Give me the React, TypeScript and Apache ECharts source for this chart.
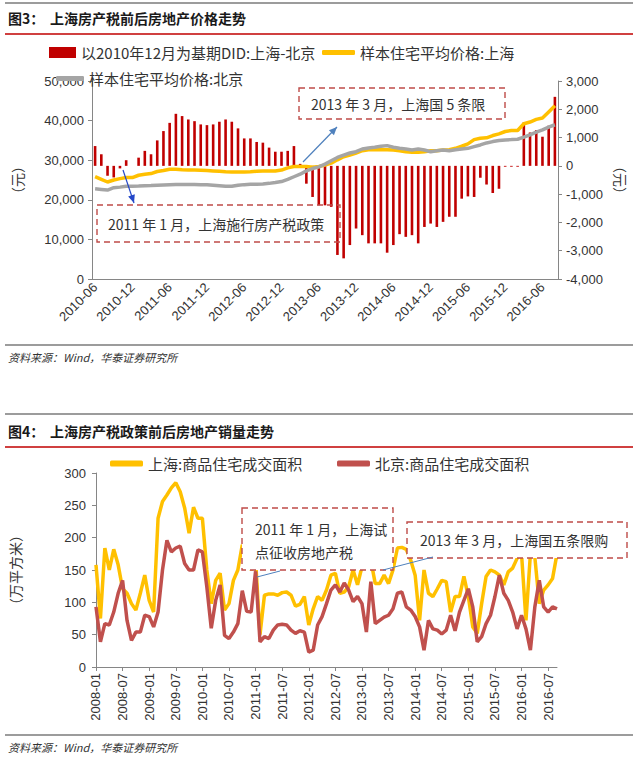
import React, { useEffect, useRef } from "react";
import * as echarts from "echarts";

// ---------- categories ----------
function monthRange(y0: number, m0: number, count: number): string[] {
  const out: string[] = [];
  let y = y0;
  let m = m0;
  for (let i = 0; i < count; i++) {
    out.push(`${y}-${String(m).padStart(2, "0")}`);
    m++;
    if (m > 12) { m = 1; y++; }
  }
  return out;
}
const priceMonths = monthRange(2010, 6, 75); // 2010-06 .. 2016-08
const salesMonths = monthRange(2008, 1, 105); // 2008-01 .. 2016-09

// ---------- series names ----------
const DID_NAME = "以2010年12月为基期DID:上海-北京";
const SH_PRICE = "样本住宅平均价格:上海";
const BJ_PRICE = "样本住宅平均价格:北京";
const SH_SALES = "上海:商品住宅成交面积";
const BJ_SALES = "北京:商品住宅成交面积";

// ---------- chart 1 values ----------
const didValues = [
  700, 410, -350, -410, -90, 200, 0,
  290, 530, 410, 900, 1230, 1520, 1840, 1760, 1640, 1580, 1465, 1440,
  1465, 1560, 1640, 1560, 1325, 970, 970, 845, 820, 645, 500, 500,
  530, 700, 70, -630, -1100, -1395, -1395, -1450, -3150, -3270, -2800, -2215,
  -2450, -2740, -2740, -2740, -3070, -2800, -2415, -2510, -2450, -2740, -2160, -2040,
  -2160, -1980, -1800, -1800, -1160, -1080, -1100, -420, -660, -960, -810, -30,
  -30, -30, 1535, 1180, 1265, 1030, 1420, 2440,
];
const shPrice = [
  25870, 25180, 24490, 25000, 25350, 25610, 25610,
  26200, 26460, 26630, 27140, 27400, 27730, 27730, 27600, 27550, 27500, 27450, 27400,
  27300, 27200, 27100, 27050, 27000, 27050, 27100, 27200, 27250, 27300, 27300, 27500,
  28060, 28400, 28400, 28400, 28250, 28400, 28750, 29260, 30100, 30870, 31300, 31810,
  32400, 32650, 32650, 32650, 32650, 32570, 32400, 32150, 32000, 32000, 32150, 32400,
  32400, 32570, 32650, 33000, 33520, 34110, 35200, 35560, 35650, 36230, 36660, 37250,
  37500, 37500, 39210, 39640, 40300, 40660, 42190, 43720,
];
const bjPrice = [
  22800, 22630, 22460, 23050, 23200, 23400, 23450,
  23500, 23560, 23600, 23700, 23750, 23800, 23850, 23850, 23850, 23850, 23800, 23800,
  23700, 23550, 23400, 23400, 23650, 23830, 23900, 23950, 24000, 24150, 24350, 24600,
  25140, 25820, 26460, 27310, 27900, 28330, 29000, 29850, 30700, 31300, 31810, 32150,
  32830, 33080, 33260, 33520, 33680, 33260, 33000, 32830, 32570, 32830, 32570, 32150,
  32400, 32570, 32400, 32650, 32830, 33000, 33430, 33850, 34360, 34700, 34960, 35130,
  35200, 35300, 35810, 36400, 37090, 37680, 38360, 38950,
];

// ---------- chart 2 values ----------
const shSales = [
  158, 75, 184, 150, 182, 158, 121, 114, 98, 88, 114, 142,
  103, 85, 230, 256, 266, 277, 285, 271, 246, 207, 247, 230,
  230, 150, 98, 134, 145, 88, 98, 134, 150, 189, 178, 150,
  165, 50, 111, 113, 113, 111, 115, 116, 111, 94, 97, 109,
  65, 90, 109, 103, 119, 142, 145, 114, 116, 124, 150, 127,
  155, 175, 165, 129, 129, 142, 129, 150, 184, 185, 182, 165,
  142, 72, 150, 114, 109, 121, 134, 132, 85, 109, 109, 140,
  109, 62, 52, 98, 140, 150, 147, 142, 127, 147, 153, 168,
  175, 72, 175, 170, 98, 119, 127, 137, 175,
];
const bjSales = [
  93, 39, 67, 65, 85, 114, 134, 72, 41, 54, 54, 80,
  78, 62, 85, 150, 196, 178, 184, 187, 160, 150, 150, 181,
  178, 124, 60, 103, 127, 49, 44, 54, 67, 118, 86, 85,
  148, 39, 47, 44, 57, 65, 66, 65, 57, 52, 56, 54,
  23, 26, 65, 78, 98, 119, 127, 116, 130, 119, 101, 109,
  98, 54, 132, 67, 72, 77, 80, 90, 114, 116, 93, 88,
  78, 62, 26, 72, 59, 57, 51, 57, 80, 56, 85, 103,
  121, 93, 39, 47, 67, 80, 109, 142, 114, 103, 85, 59,
  80, 59, 26, 93, 134, 93, 85, 93, 90,
];

// ---------- styling ----------
const FONT = '"Noto Sans CJK SC", "Noto Sans", sans-serif';
const AXIS_COLOR = "#868686";
const LABEL_COLOR = "#333333";
const BOX_COLOR = "#BE4B48";

const hr = (y: number, color: string, w: number) => ({
  type: "line", z: 100,
  shape: { x1: 5, y1: y, x2: 633, y2: y },
  style: { stroke: color, lineWidth: w },
});
const txt = (x: number, y: number, text: string, font: string, fill = "#333333") => ({
  type: "text", z: 101, x, y,
  style: { text, font, fill, verticalAlign: "middle", align: "left" },
});
const box = (x: number, y: number, w: number, h: number, fill: string) => ({
  type: "rect", z: 100,
  shape: { x, y, width: w, height: h },
  style: { fill, stroke: BOX_COLOR, lineWidth: 1.4, lineDash: [6, 4] },
});
const seg = (x1: number, y1: number, x2: number, y2: number, color: string, w = 1) => ({
  type: "line", z: 101,
  shape: { x1, y1, x2, y2 },
  style: { stroke: color, lineWidth: w },
});
function arrowHead(x1: number, y1: number, x2: number, y2: number, color: string) {
  const dx = x2 - x1, dy = y2 - y1;
  const L = Math.sqrt(dx * dx + dy * dy);
  const ux = dx / L, uy = dy / L;
  const bx = x2 - ux * 8, by = y2 - uy * 8;
  const px = -uy * 3.5, py = ux * 3.5;
  return {
    type: "polygon", z: 101,
    shape: { points: [[x2, y2], [bx + px, by + py], [bx - px, by - py]] },
    style: { fill: color },
  };
}

const axisLineCommon = { onZero: false, lineStyle: { color: AXIS_COLOR, width: 1 } };
const axisTickCommon = { interval: 5, length: 4, lineStyle: { color: AXIS_COLOR } };
const yAxisCommon = {
  type: "value",
  axisLine: { show: true, lineStyle: { color: AXIS_COLOR, width: 1 } },
  axisTick: { show: true, length: 4, lineStyle: { color: AXIS_COLOR } },
  splitLine: { show: false },
  nameLocation: "middle",
  nameTextStyle: { fontSize: 14, color: LABEL_COLOR },
};

const legendBase = {
  padding: 0,
  selectedMode: false,
  itemGap: 10,
  textStyle: { fontSize: 15, color: LABEL_COLOR, fontFamily: FONT },
};

const option: any = {
  animation: false,
  backgroundColor: "#ffffff",
  textStyle: { fontFamily: FONT },
  grid: [
    { left: 92, top: 81, width: 466, height: 198 },
    { left: 92, top: 473, width: 465, height: 194 },
  ],
  xAxis: [
    {
      type: "category", gridIndex: 0, data: priceMonths, boundaryGap: true,
      axisLine: axisLineCommon, axisTick: axisTickCommon, splitLine: { show: false },
      axisLabel: { interval: 5, rotate: 45, fontSize: 13, color: LABEL_COLOR, margin: 6, fontFamily: "Liberation Sans" },
    },
    {
      type: "category", gridIndex: 1, data: salesMonths, boundaryGap: false,
      axisLine: axisLineCommon, axisTick: axisTickCommon, splitLine: { show: false },
      axisLabel: { interval: 5, rotate: 90, fontSize: 13, color: LABEL_COLOR, margin: 6, fontFamily: "Liberation Sans" },
    },
  ],
  yAxis: [
    {
      ...yAxisCommon, gridIndex: 0, position: "left", min: 0, max: 50000, interval: 10000,
      name: "（元）", nameGap: 68, nameRotate: 90,
      axisLabel: { fontSize: 13, color: LABEL_COLOR, margin: 8, fontFamily: "Liberation Sans" },
    },
    {
      ...yAxisCommon, gridIndex: 0, position: "right", min: -4000, max: 3000, interval: 1000,
      name: "（元）", nameGap: 54, nameRotate: -90,
      axisLabel: {
        fontSize: 13, color: LABEL_COLOR, margin: 8, fontFamily: "Liberation Sans",
        formatter: (v: number) => v.toLocaleString("en-US"),
      },
    },
    {
      ...yAxisCommon, gridIndex: 1, position: "left", min: 0, max: 300, interval: 50,
      name: "（万平方米）", nameGap: 74, nameRotate: 90,
      axisLabel: { fontSize: 13, color: LABEL_COLOR, margin: 10, fontFamily: "Liberation Sans" },
    },
  ],
  legend: [
    { ...legendBase, left: 49, top: 45, itemWidth: 27, itemHeight: 11, data: [{ name: DID_NAME, icon: "rect" }] },
    { ...legendBase, left: 322, top: 45, itemWidth: 33, itemHeight: 5, data: [{ name: SH_PRICE, icon: "roundRect" }] },
    { ...legendBase, left: 56, top: 71, itemWidth: 28, itemHeight: 5, data: [{ name: BJ_PRICE, icon: "roundRect" }] },
    { ...legendBase, left: 110, top: 456, itemWidth: 33, itemHeight: 6, data: [{ name: SH_SALES, icon: "roundRect" }] },
    { ...legendBase, left: 337, top: 456, itemWidth: 33, itemHeight: 6, data: [{ name: BJ_SALES, icon: "roundRect" }] },
  ],
  series: [
    {
      name: DID_NAME, type: "bar", xAxisIndex: 0, yAxisIndex: 1, data: didValues,
      barWidth: 2.6, itemStyle: { color: "#C00000" }, z: 2,
    },
    {
      name: SH_PRICE, type: "line", xAxisIndex: 0, yAxisIndex: 0, data: shPrice,
      symbol: "none", lineStyle: { color: "#FFC000", width: 3.5 }, itemStyle: { color: "#FFC000" }, z: 3,
    },
    {
      name: BJ_PRICE, type: "line", xAxisIndex: 0, yAxisIndex: 0, data: bjPrice,
      symbol: "none", lineStyle: { color: "#A5A5A5", width: 3.5 }, itemStyle: { color: "#A5A5A5" }, z: 4,
    },
    {
      name: SH_SALES, type: "line", xAxisIndex: 1, yAxisIndex: 2, data: shSales,
      symbol: "none", lineStyle: { color: "#FFC000", width: 3.5 }, itemStyle: { color: "#FFC000" }, z: 3,
    },
    {
      name: BJ_SALES, type: "line", xAxisIndex: 1, yAxisIndex: 2, data: bjSales,
      symbol: "none", lineStyle: { color: "#C0504D", width: 3.5 }, itemStyle: { color: "#C0504D" }, z: 4,
    },
  ],
  graphic: {
    elements: [
      // chart 1 frame
      hr(3, "#9C9C9C", 2),
      txt(8, 18, "图3：", `bold 14px ${FONT}`, "#1a1a1a"),
      txt(50, 18, "上海房产税前后房地产价格走势", `bold 14px ${FONT}`, "#1a1a1a"),
      hr(34, "#C00000", 1.5),
      hr(345, "#9C9C9C", 2),
      txt(8, 357, "资料来源：Wind，华泰证券研究所", `italic 11px ${FONT}`, "#333333"),
      // chart 1 annotations
      box(97, 205, 243, 37, "rgba(255,255,255,0)"),
      txt(108, 224, "2011 年 1 月，上海施行房产税政策", `14px ${FONT}`, "#333333"),
      box(299, 88, 206, 31, "rgba(255,255,255,0)"),
      txt(311, 104, "2013 年 3 月，上海国 5 条限", `14px ${FONT}`, "#333333"),
      seg(123, 170, 134, 203, "#2448C8", 1.2),
      arrowHead(123, 170, 134, 203, "#2448C8"),
      seg(303, 162, 337, 127, "#4F81BD", 1.2),
      arrowHead(303, 162, 337, 127, "#4F81BD"),
      // chart 2 frame
      hr(414, "#9C9C9C", 2),
      txt(8, 431, "图4：", `bold 14px ${FONT}`, "#1a1a1a"),
      txt(50, 431, "上海房产税政策前后房地产销量走势", `bold 14px ${FONT}`, "#1a1a1a"),
      hr(447, "#C00000", 1.5),
      hr(735, "#9C9C9C", 2),
      txt(8, 747, "资料来源：Wind，华泰证券研究所", `italic 11px ${FONT}`, "#333333"),
      // chart 2 annotations
      seg(257, 577, 280, 571, "#4F81BD", 1),
      seg(383, 570, 433, 557, "#4F81BD", 1),
      box(242, 508, 151, 62, "#ffffff"),
      txt(255, 529, "2011 年 1 月，上海试", `14px ${FONT}`, "#333333"),
      txt(255, 552, "点征收房地产税", `14px ${FONT}`, "#333333"),
      box(407, 522, 220, 36, "#ffffff"),
      txt(420, 540, "2013 年 3 月，上海国五条限购", `14px ${FONT}`, "#333333"),
    ],
  },
};

export default function App() {
  const ref = useRef<HTMLDivElement>(null);
  useEffect(() => {
    const chart = echarts.init(ref.current as HTMLDivElement, null, { renderer: "svg" });
    chart.setOption(option);
    return () => chart.dispose();
  }, []);
  return (
    <div
      ref={ref}
      style={{ position: "fixed", left: 0, top: 0, width: 640, height: 763, background: "#ffffff" }}
    />
  );
}
